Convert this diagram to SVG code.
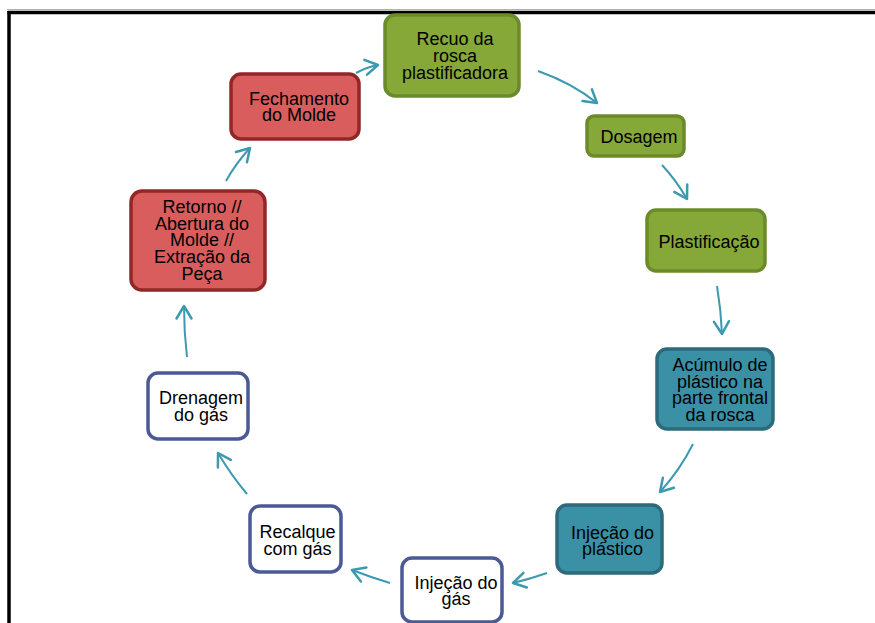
<svg xmlns="http://www.w3.org/2000/svg" width="875" height="623" viewBox="0 0 875 623">
<defs>
<style>
.t{font-family:"Liberation Sans",Arial,sans-serif;font-size:18px;fill:#000;text-anchor:middle}
.g{fill:#86a838;stroke:#6b8a2a;stroke-width:3.5}
.b{fill:#3a91a6;stroke:#2b6b7b;stroke-width:3.5}
.r{fill:#d95d5d;stroke:#922727;stroke-width:3.5}
.w{fill:#fff;stroke:#4b5a94;stroke-width:3.5}
.c{fill:none;stroke:#3b9ab0;stroke-width:2;marker-end:url(#ah)}
</style>
<marker id="ah" markerUnits="userSpaceOnUse" orient="auto" markerWidth="20" markerHeight="20" refX="0" refY="0" viewBox="-12 -8 14 16" overflow="visible">
<path d="M-10,-6 L0,0 L-10,6" fill="none" stroke="#3b9ab0" stroke-width="2" stroke-linecap="round" stroke-linejoin="round"/>
</marker>
</defs>
<rect width="875" height="623" fill="#fff"/>
<line x1="7" y1="9.5" x2="875" y2="9.5" stroke="#b0b0b0" stroke-width="1"/>
<line x1="7.5" y1="12.5" x2="875" y2="12.5" stroke="#000" stroke-width="3.5"/>
<line x1="9" y1="11" x2="9" y2="623" stroke="#000" stroke-width="3.5"/>

<g id="connectors">
<path class="c" d="M356,73 Q367,67 378,65"/>
<path class="c" d="M538,71 Q572,83 597,103"/>
<path class="c" d="M662,165 Q676,180 687,199"/>
<path class="c" d="M717,286 Q721,310 722,334"/>
<path class="c" d="M693,444 Q680,470 660,492"/>
<path class="c" d="M547,573 Q530,579 513,583"/>
<path class="c" d="M390,583 Q370,577 352,570"/>
<path class="c" d="M247,494 Q231,475 218,453"/>
<path class="c" d="M187,357 Q184,332 184,306"/>
<path class="c" d="M226,181 Q236,163 250,148"/>
</g>

<g id="recuo">
<rect class="g" x="385" y="15" width="134" height="81" rx="10"/>
<text class="t" x="455"><tspan x="455" y="45">Recuo da</tspan><tspan x="455" y="62">rosca</tspan><tspan x="455" y="79">plastificadora</tspan></text>
</g>
<g id="dosagem">
<rect class="g" x="587" y="116" width="97" height="40" rx="7"/>
<text class="t" x="639" y="143">Dosagem</text>
</g>
<g id="plastificacao">
<rect class="g" x="647" y="210" width="118" height="61" rx="9"/>
<text class="t" x="709" y="248">Plastificação</text>
</g>
<g id="acumulo">
<rect class="b" x="657" y="349" width="116" height="80" rx="10"/>
<text class="t"><tspan x="720" y="371">Acúmulo de</tspan><tspan x="720" y="387.5">plástico na</tspan><tspan x="720" y="404">parte frontal</tspan><tspan x="720" y="420.5">da rosca</tspan></text>
</g>
<g id="injecao-plastico">
<rect class="b" x="557" y="505" width="105" height="68" rx="10"/>
<text class="t"><tspan x="612.5" y="538.5">Injeção do</tspan><tspan x="612.5" y="555">plástico</tspan></text>
</g>
<g id="injecao-gas">
<rect class="w" x="402" y="558" width="100" height="64" rx="10"/>
<text class="t"><tspan x="456" y="588.5">Injeção do</tspan><tspan x="456" y="605">gás</tspan></text>
</g>
<g id="recalque">
<rect class="w" x="250" y="506" width="91" height="66" rx="10"/>
<text class="t"><tspan x="297.5" y="538">Recalque</tspan><tspan x="297.5" y="554.5">com gás</tspan></text>
</g>
<g id="drenagem">
<rect class="w" x="148" y="373" width="100" height="66" rx="10"/>
<text class="t"><tspan x="201" y="404">Drenagem</tspan><tspan x="201" y="420.5">do gás</tspan></text>
</g>
<g id="retorno">
<rect class="r" x="131" y="191" width="134" height="99" rx="11"/>
<text class="t"><tspan x="202" y="213">Retorno //</tspan><tspan x="202" y="229.5">Abertura do</tspan><tspan x="202" y="246">Molde //</tspan><tspan x="202" y="263">Extração da</tspan><tspan x="202" y="280">Peça</tspan></text>
</g>
<g id="fechamento">
<rect class="r" x="231" y="74" width="128" height="65" rx="10"/>
<text class="t"><tspan x="299" y="104.5">Fechamento</tspan><tspan x="299" y="121">do Molde</tspan></text>
</g>
</svg>
